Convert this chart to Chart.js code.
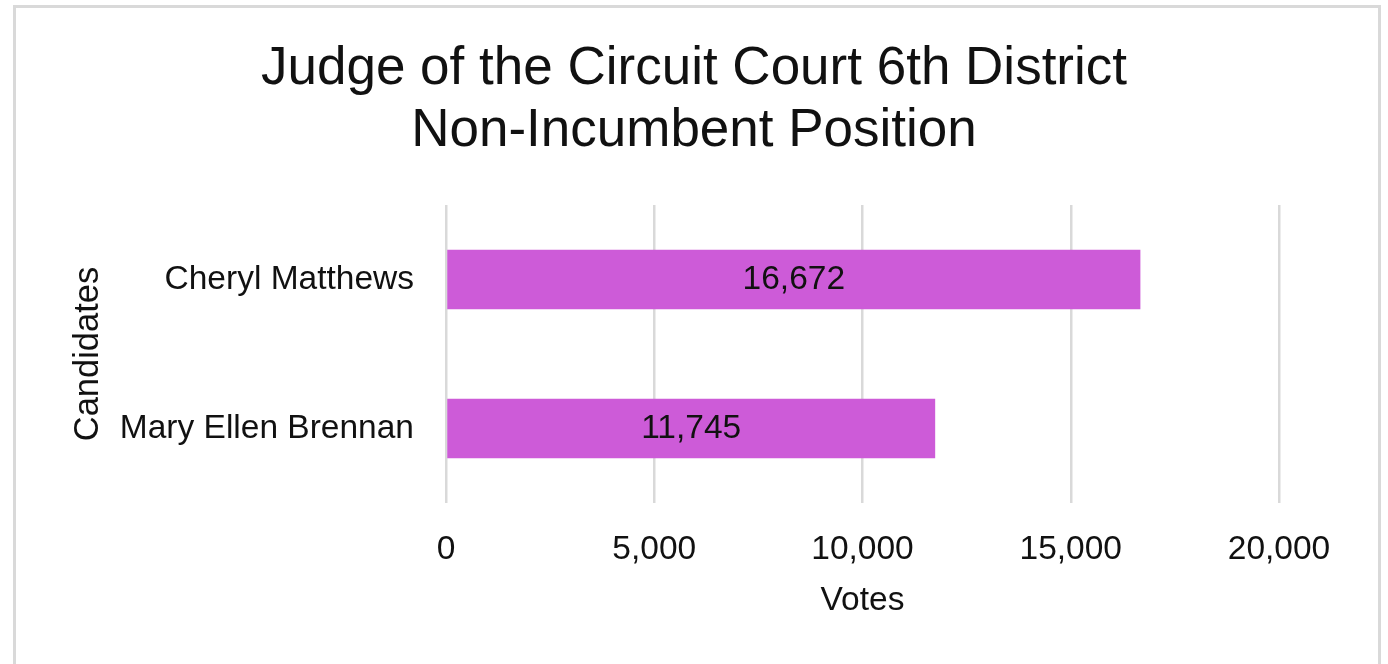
<!DOCTYPE html>
<html>
<head>
<meta charset="utf-8">
<script src="https://cdn.jsdelivr.net/npm/chart.js@4"></script>
<style>
  body { margin: 0; background: #fff; }
  #frame {
    position: absolute; left: 13px; top: 5px;
    width: 1368px; height: 700px;
    border: 3px solid #d9d9d9; box-sizing: border-box;
  }
  #chart { position: absolute; left: 0; top: 0; }
</style>
</head>
<body>
<div id="frame"></div>
<canvas id="chart" width="1388" height="664"></canvas>
<script>
// chart data
let candidates = ['Cheryl Matthews', 'Mary Ellen Brennan'];
let votes = [16672, 11745];
let titleLines = ['Judge of the Circuit Court 6th District', 'Non-Incumbent Position'];

let textColor = '#111';
let fontFamily = '"Liberation Sans", Arial, sans-serif';

function fmt(v) {
  return Number(v).toLocaleString('en-US');
}

// value labels in the middle of each bar
let barLabels = {
  id: 'barLabels',
  afterDatasetsDraw: function(chart) {
    let ctx = chart.ctx;
    let meta = chart.getDatasetMeta(0);
    ctx.save();
    ctx.font = '33.5px ' + fontFamily;
    ctx.fillStyle = textColor;
    ctx.textAlign = 'center';
    ctx.textBaseline = 'middle';
    meta.data.forEach(function(bar, i) {
      ctx.fillText(fmt(votes[i]), (bar.x + bar.base) / 2, bar.y);
    });
    ctx.restore();
  }
};

const chart = new Chart(document.getElementById('chart'), {
  type: 'bar',
  data: {
    labels: candidates,
    datasets: [{
      label: 'Votes',
      data: votes,
      backgroundColor: '#cd5bd8',
      barPercentage: 0.8,
      categoryPercentage: 0.5
    }]
  },
  plugins: [barLabels],
  options: {
    indexAxis: 'y',
    responsive: false,
    animation: false,
    layout: { padding: { top: 0, left: 109, right: 109, bottom: 43 } },
    plugins: {
      legend: { display: false },
      tooltip: { enabled: false },
      title: {
        display: true,
        text: titleLines,
        color: textColor,
        font: { family: fontFamily, size: 53, weight: 'normal', lineHeight: 1.17 },
        padding: { top: 38, bottom: 43 }
      }
    },
    scales: {
      x: {
        min: 0,
        max: 20000,
        ticks: {
          stepSize: 5000,
          color: textColor,
          padding: 27,
          font: { family: fontFamily, size: 33.5 },
          callback: function(v) { return fmt(v); }
        },
        grid: { color: '#d9d9d9', lineWidth: 2.5, drawTicks: false },
        border: { display: false },
        title: {
          display: true,
          text: 'Votes',
          color: textColor,
          font: { family: fontFamily, size: 33.5 },
          padding: 0
        },
        afterFit: function(s) { s.height = 118; }
      },
      y: {
        ticks: {
          color: textColor,
          padding: 32,
          font: { family: fontFamily, size: 33.5 }
        },
        grid: { display: false, drawTicks: false },
        border: { display: false },
        title: {
          display: true,
          text: 'Candidates',
          color: textColor,
          font: { family: fontFamily, size: 34.5 },
          padding: { top: -41, bottom: 0 }
        },
        afterFit: function(s) { s.width = 337; }
      }
    }
  }
});
</script>
</body>
</html>
